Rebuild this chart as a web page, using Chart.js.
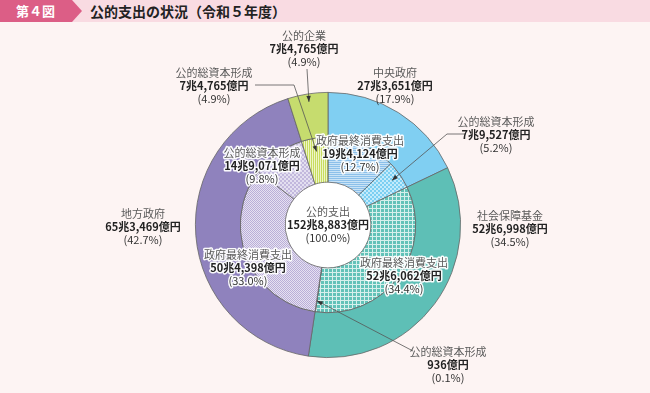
<!DOCTYPE html>
<html lang="ja">
<head>
<meta charset="utf-8">
<script src="https://cdn.jsdelivr.net/npm/chart.js@4.4.1/dist/chart.umd.min.js"></script>
<style>
body { margin: 0; background: #fdf4f3; font-family: 'Noto Sans CJK JP', sans-serif; }
#wadah { position: relative; width: 650px; height: 393px; overflow: hidden; }
#judul { position: absolute; left: 0; top: 0; width: 650px; height: 22px; background: #f9dbe2; z-index: 2; }
#nomor { position: absolute; left: 0; top: 0; width: 82px; height: 22px; background: #dc5e86;
  clip-path: polygon(0 0, 72px 0, 82px 11px, 72px 22px, 0 22px);
  color: #fff; font-weight: bold; font-size: 13px; line-height: 22px; padding-left: 16px; box-sizing: border-box; }
#teksJudul { position: absolute; left: 90px; top: 0; line-height: 22px; font-size: 14px; font-weight: bold; color: #222; }
canvas { position: absolute; left: 0; top: 0; }
</style>
</head>
<body>
<div id="wadah">
  <div id="judul"><div id="nomor">第４図</div><div id="teksJudul">公的支出の状況（令和５年度）</div></div>
  <canvas id="grafik" width="650" height="393"></canvas>
</div>
<script>
// --- DATA (億円) ---
var kategoriLuar = ['中央政府', '社会保障基金', '地方政府', '公的企業'];
var nilaiLuar = [273651, 526998, 653469, 74765];
var kategoriDalam = ['政府最終消費支出', '公的総資本形成', '政府最終消費支出', '公的総資本形成',
                     '政府最終消費支出', '公的総資本形成', '公的総資本形成'];
var nilaiDalam = [194124, 79527, 526062, 936, 504398, 149071, 74765];
var judulTengah = '公的支出';
var totalNilai = 1528883;

// --- POLA ARSIRAN ---
function buatPola(jenis, dasar, garis) {
    var c = document.createElement('canvas');
    var n = 4;
    c.width = n; c.height = n;
    var g = c.getContext('2d');
    g.fillStyle = dasar;
    g.fillRect(0, 0, n, n);
    g.fillStyle = garis;
    if (jenis === 'horizontal') {
        g.fillRect(0, 0, n, 1); g.fillRect(0, 2, n, 1);
    } else if (jenis === 'vertikal') {
        g.fillRect(0, 0, 1, n); g.fillRect(2, 0, 1, n);
    } else if (jenis === 'grid') {
        g.fillRect(0, 0, n, 1); g.fillRect(0, 0, 1, n);
    } else if (jenis === 'catur') {
        g.fillRect(0, 0, 2, 2); g.fillRect(2, 2, 2, 2);
    } else if (jenis === 'halus') {
        g.fillRect(0, 0, 1, 1); g.fillRect(2, 0, 1, 1); g.fillRect(1, 1, 1, 1); g.fillRect(3, 1, 1, 1);
        g.fillRect(0, 2, 1, 1); g.fillRect(2, 2, 1, 1); g.fillRect(1, 3, 1, 1); g.fillRect(3, 3, 1, 1);
    }
    return g.createPattern(c, 'repeat');
}

var ctx = document.getElementById('grafik').getContext('2d');
var warnaLuar = ['#80cff2', '#5ebfb6', '#8f82bd', '#c6dc6e'];
var warnaDalam = [
    buatPola('horizontal', '#c9e3f6', '#8cc0ea'),
    buatPola('catur', '#c4ebfb', '#7ccff2'),
    buatPola('grid', '#62c2b8', '#d6f0ec'),
    '#5ebfb6',
    buatPola('halus', '#e6e1f1', '#b9aed8'),
    buatPola('catur', '#e3dff0', '#c2b8dd'),
    buatPola('vertikal', '#c8dd5e', '#eef5c8')
];

// --- FORMAT ANGKA ---
function formatOku(v) {
    var cho = Math.floor(v / 10000);
    var oku = v % 10000;
    var s = oku.toLocaleString('en-US');
    return (cho > 0 ? cho + '兆' : '') + s + '億円';
}
function formatPersen(v) {
    return '(' + (v / totalNilai * 100).toFixed(1) + '%)';
}

// --- POSISI LABEL (tata letak teks) ---
// ds: dataset, i: index, x/y: posisi teks, dalam: teks di dalam cincin
// garis: titik siku garis penunjuk, r: posisi ujung panah (0 = tepi dalam, 1 = tepi luar)
var labelLuar = [
    { ds: 0, i: 0, x: 395, y: 73 },
    { ds: 0, i: 1, x: 510, y: 216 },
    { ds: 0, i: 2, x: 143, y: 214 },
    { ds: 0, i: 3, x: 304, y: 36, garis: [[307, 69]], r: 0.82 }
];
var labelDalam = [
    { ds: 1, i: 0, x: 360, y: 141, dalam: true },
    { ds: 1, i: 1, x: 496, y: 122, garis: [[466, 134], [447, 134]], r: 0.78 },
    { ds: 1, i: 2, x: 404, y: 263, dalam: true },
    { ds: 1, i: 3, x: 448, y: 352, garis: [[413, 351]], r: 0.75 },
    { ds: 1, i: 4, x: 248, y: 255, dalam: true },
    { ds: 1, i: 5, x: 262, y: 153, dalam: true },
    { ds: 1, i: 6, x: 214, y: 73, garis: [[255, 85], [294, 85]], r: 0.7 }
];

function tulisBaris(c, teks, x, y, font, warna, halo) {
    c.font = font;
    if (halo) {
        c.lineJoin = 'round';
        c.lineWidth = 3;
        c.strokeStyle = 'rgba(255,255,255,0.95)';
        c.strokeText(teks, x, y);
    }
    c.fillStyle = warna;
    c.fillText(teks, x, y);
}

function tulisLabel(c, nama, nilai, x, y, halo) {
    c.textAlign = 'center';
    c.textBaseline = 'middle';
    tulisBaris(c, nama, x, y, "11px 'Noto Sans CJK JP'", '#5a5a5a', halo);
    tulisBaris(c, formatOku(nilai), x, y + 13, "bold 11px 'Noto Sans CJK JP'", '#222', halo);
    tulisBaris(c, formatPersen(nilai), x, y + 26, "11px 'Noto Sans CJK JP'", '#333', halo);
}

var pluginLabel = {
    id: 'pluginLabel',
    afterDraw: function(chart) {
        var c = chart.ctx;
        c.save();
        var semua = labelLuar.concat(labelDalam);
        semua.forEach(function(lb) {
            var arc = chart.getDatasetMeta(lb.ds).data[lb.i];
            var nama = lb.ds === 0 ? kategoriLuar[lb.i] : kategoriDalam[lb.i];
            var nilai = lb.ds === 0 ? nilaiLuar[lb.i] : nilaiDalam[lb.i];
            if (lb.garis) {
                var sudut = (arc.startAngle + arc.endAngle) / 2;
                var rr = arc.innerRadius + (arc.outerRadius - arc.innerRadius) * lb.r;
                var ux = arc.x + Math.cos(sudut) * rr;
                var uy = arc.y + Math.sin(sudut) * rr;
                var titik = lb.garis.concat([[ux, uy]]);
                c.strokeStyle = '#555';
                c.lineWidth = 0.8;
                c.beginPath();
                c.moveTo(titik[0][0], titik[0][1]);
                for (var k = 1; k < titik.length; k++) c.lineTo(titik[k][0], titik[k][1]);
                c.stroke();
                // kepala panah
                var p = titik[titik.length - 2];
                var a = Math.atan2(uy - p[1], ux - p[0]);
                c.fillStyle = '#333';
                c.beginPath();
                c.moveTo(ux, uy);
                c.lineTo(ux - 6 * Math.cos(a) + 2.2 * Math.sin(a), uy - 6 * Math.sin(a) - 2.2 * Math.cos(a));
                c.lineTo(ux - 6 * Math.cos(a) - 2.2 * Math.sin(a), uy - 6 * Math.sin(a) + 2.2 * Math.cos(a));
                c.closePath();
                c.fill();
            }
            tulisLabel(c, nama, nilai, lb.x, lb.y, !!lb.dalam);
        });
        var tengah = chart.getDatasetMeta(2).data[0];
        tulisLabel(c, judulTengah, totalNilai, tengah.x, tengah.y - 13, false);
        c.restore();
    }
};

new Chart(ctx, {
    type: 'doughnut',
    data: {
        labels: kategoriDalam,
        datasets: [
            { data: nilaiLuar, backgroundColor: warnaLuar, borderColor: '#666', borderWidth: 0.8, weight: 45 },
            { data: nilaiDalam, backgroundColor: warnaDalam, borderColor: '#666', borderWidth: 0.8, weight: 45 },
            { data: [totalNilai], backgroundColor: ['#ffffff'], borderWidth: 0, weight: 43 }
        ]
    },
    options: {
        responsive: false,
        animation: false,
        events: [],
        cutout: 0,
        layout: { padding: { top: 92, bottom: 35, left: 150, right: 144 } },
        plugins: { legend: { display: false }, tooltip: { enabled: false } }
    },
    plugins: [pluginLabel]
});
</script>
</body>
</html>
